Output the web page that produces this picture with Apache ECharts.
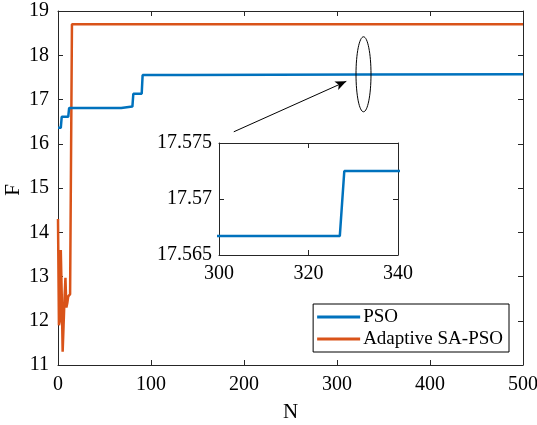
<!DOCTYPE html>
<html>
<head>
<meta charset="utf-8">
<script src="https://cdn.jsdelivr.net/npm/echarts@6/dist/echarts.min.js"></script>
<style>
  html, body { margin: 0; padding: 0; background: #fff; }
  #main { width: 537px; height: 425px; }
</style>
</head>
<body>
<div id="main"></div>
<script>
// PSO curve (change points)
var psoN = [0, 3, 4, 11, 12, 68, 69, 80, 81, 90, 91, 138, 139, 327, 328, 500];
var psoF = [16.36, 16.36, 16.61, 16.61, 16.81, 16.81, 16.84, 16.84, 17.13, 17.13, 17.555, 17.555, 17.5667, 17.5667, 17.5725, 17.5725];
// Adaptive SA-PSO curve
var saN = [0, 1, 2, 3, 4, 5, 6, 7, 8, 9, 10, 11, 12, 13, 14, 15, 500];
var saF = [14.3, 11.9, 12.0, 13.6, 12.6, 11.3, 11.9, 12.5, 12.97, 12.3, 12.4, 12.55, 12.55, 12.6, 12.6, 18.7, 18.7];
var seriesNames = ['PSO', 'Adaptive SA-PSO'];

function pairs(xs, ys) {
    var out = [];
    for (var i = 0; i < xs.length; i++) out.push([xs[i], ys[i]]);
    return out;
}
var psoData = pairs(psoN, psoF);
var saData = pairs(saN, saF);

var font = 'Liberation Serif';
var axisCol = '#262626';

function makeAxis(opt) {
    var a = {
        type: 'value',
        gridIndex: opt.grid,
        min: opt.min, max: opt.max, interval: opt.interval,
        position: opt.position,
        splitLine: { show: false },
        axisLine: { show: true, onZero: false, lineStyle: { color: axisCol, width: 1 } },
        axisTick: { show: true, inside: true, length: 5, lineStyle: { color: axisCol } },
        axisLabel: { show: !opt.hideLabel, color: '#000', fontFamily: font, fontSize: 20, margin: opt.margin || 8 }
    };
    if (opt.name) {
        a.name = opt.name;
        a.nameLocation = 'middle';
        a.nameGap = opt.nameGap;
        a.nameTextStyle = { color: '#000', fontFamily: font, fontSize: 21 };
    }
    return a;
}

var myChart = echarts.init(document.getElementById('main'));
var option = {
    backgroundColor: '#fff',
    animation: false,
    grid: [
        { left: 58, right: 14, top: 11, bottom: 60, show: false, containLabel: false, outerBoundsMode: 'none' },
        { left: 219, right: 139, top: 143, bottom: 170, show: true, backgroundColor: '#fff', borderWidth: 0,
          containLabel: false, outerBoundsMode: 'none' }
    ],
    xAxis: [
        makeAxis({ grid: 0, min: 0, max: 500, interval: 100, position: 'bottom', name: 'N', nameGap: 37, margin: 10 }),
        makeAxis({ grid: 0, min: 0, max: 500, interval: 100, position: 'top', hideLabel: true }),
        makeAxis({ grid: 1, min: 300, max: 340, interval: 20, position: 'bottom', margin: 9 }),
        makeAxis({ grid: 1, min: 300, max: 340, interval: 20, position: 'top', hideLabel: true })
    ],
    yAxis: [
        makeAxis({ grid: 0, min: 11, max: 19, interval: 1, position: 'left', margin: 9 }),
        makeAxis({ grid: 0, min: 11, max: 19, interval: 1, position: 'right', hideLabel: true }),
        makeAxis({ grid: 1, min: 17.565, max: 17.575, interval: 0.005, position: 'left', margin: 7 }),
        makeAxis({ grid: 1, min: 17.565, max: 17.575, interval: 0.005, position: 'right', hideLabel: true })
    ],
    legend: {
        data: seriesNames,
        orient: 'vertical',
        right: 28,
        top: 304,
        backgroundColor: '#fff',
        borderColor: '#000',
        borderWidth: 1,
        borderRadius: 0,
        padding: [3, 6, 3, 4],
        itemGap: 2,
        itemWidth: 43,
        itemHeight: 3,
        icon: 'rect',
        textStyle: { color: '#000', fontFamily: font, fontSize: 19, lineHeight: 20, padding: [0, 0, 0, -2] }
    },
    series: [
        {
            name: seriesNames[0], type: 'line', xAxisIndex: 0, yAxisIndex: 0,
            data: psoData, symbol: 'none', color: '#0072BD',
            lineStyle: { width: 2.5, color: '#0072BD' }, z: 3,
            markLine: {
                silent: true, symbol: ['none', 'arrow'], symbolSize: [7, 11],
                label: { show: false },
                lineStyle: { color: '#000', width: 1, type: 'solid' },
                data: [[{ coord: [189, 16.27] }, { coord: [310, 17.41] }]]
            }
        },
        {
            name: seriesNames[1], type: 'line', xAxisIndex: 0, yAxisIndex: 0,
            data: saData, symbol: 'none', color: '#D95319',
            lineStyle: { width: 2.5, color: '#D95319' }, z: 2
        },
        {
            name: seriesNames[0], type: 'line', xAxisIndex: 2, yAxisIndex: 2,
            data: psoData, symbol: 'none', color: '#0072BD', clip: true,
            lineStyle: { width: 2.5, color: '#0072BD' }
        }
    ]
};
myChart.setOption(option);

// ellipse marking the zoomed region, and the rotated y-axis title
var c = myChart.convertToPixel({ gridIndex: 0 }, [328.5, 17.57]);
var mid = myChart.convertToPixel({ gridIndex: 0 }, [0, 15]);
myChart.setOption({
    graphic: [{
        type: 'ellipse',
        shape: { cx: c[0], cy: c[1], rx: 7.5, ry: 37.5 },
        style: { fill: 'none', stroke: '#000', lineWidth: 1 },
        z: 10
    }, {
        type: 'text',
        x: 13, y: mid[1] + 2,
        rotation: Math.PI / 2,
        style: { text: 'F', fill: '#000', font: '21px "Liberation Serif"', align: 'center', verticalAlign: 'middle' },
        z: 10
    }]
});
</script>
</body>
</html>
